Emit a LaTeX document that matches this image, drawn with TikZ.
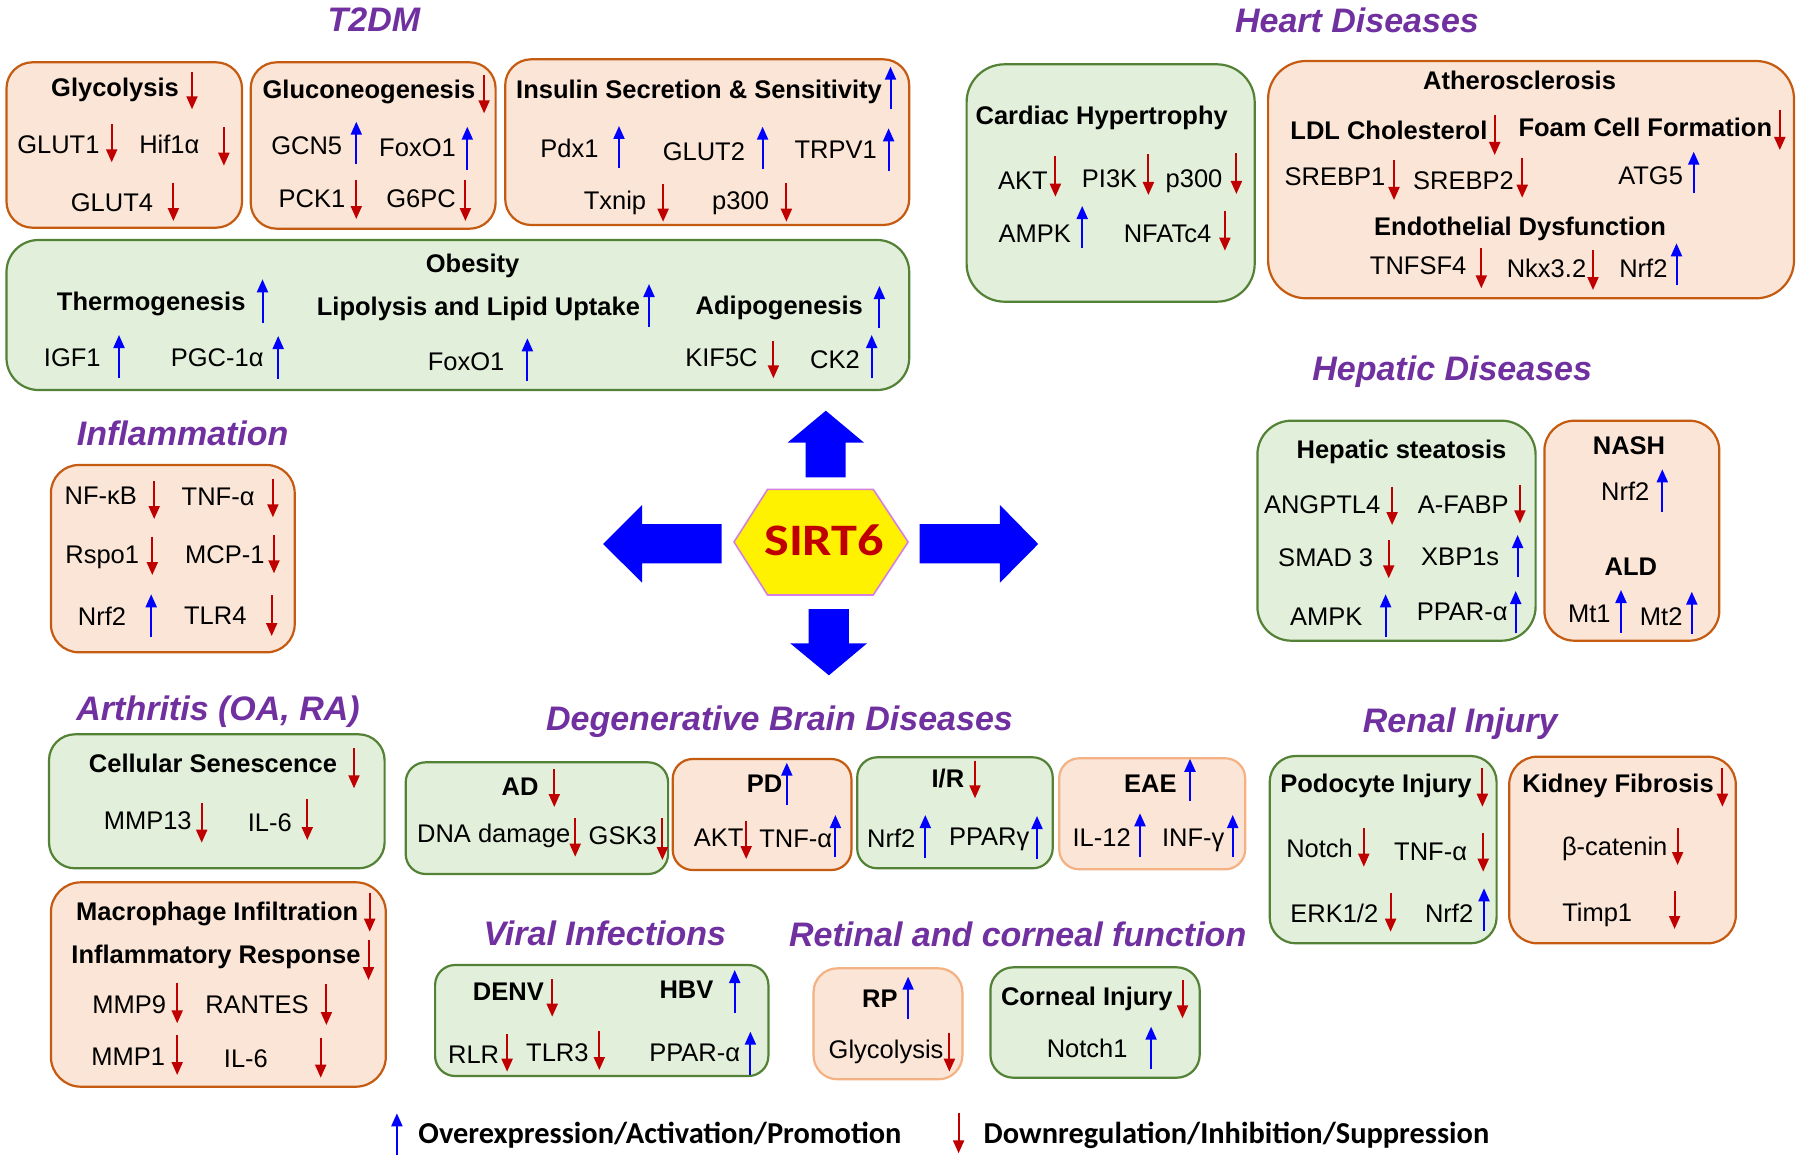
\documentclass[tikz,border=0pt]{standalone}
\usepackage{fontspec}
\setmainfont{Liberation Sans}
\newfontfamily\calib{Carlito}
\usetikzlibrary{arrows.meta}
\definecolor{ofill}{HTML}{FBE5D6}
\definecolor{oline}{HTML}{C55A11}
\definecolor{lline}{HTML}{F4B183}
\definecolor{gfill}{HTML}{E2EFDA}
\definecolor{gline}{HTML}{538135}
\definecolor{purp}{HTML}{7030A0}
\definecolor{ared}{HTML}{C00000}
\definecolor{ablue}{HTML}{0000FF}
\definecolor{hexline}{HTML}{D77FE0}
\newcommand{\myup}[3]{\draw[uparr] (#1,#3) -- (#1,#2);}
\newcommand{\mydn}[3]{\draw[dnarr] (#1,#2) -- (#1,#3);}
\begin{document}
\begin{tikzpicture}[x=0.5pt,y=-0.5pt,
  obox/.style={fill=ofill,draw=oline,line width=1.1pt},
  lbox/.style={fill=ofill,draw=lline,line width=1.1pt},
  gbox/.style={fill=gfill,draw=gline,line width=1.1pt},
  t/.style={inner sep=0pt,font=\fontsize{12.75}{15}\selectfont,text height=9.13pt,text depth=0pt},
  h/.style={inner sep=0pt,font=\fontsize{12.75}{15}\selectfont\bfseries,text height=9.13pt,text depth=0pt},
  ttl/.style={inner sep=0pt,font=\fontsize{17}{20}\selectfont\bfseries\itshape,text=purp,text height=12.2pt,text depth=0pt},
  lg/.style={inner sep=0pt,font=\fontsize{15.2}{18}\selectfont\calib\bfseries,text height=9.7pt,text depth=0pt},
  uparr/.style={draw=ablue,line width=1pt,-{Triangle[width=5.5pt,length=6.5pt]}},
  dnarr/.style={draw=ared,line width=1pt,-{Triangle[width=5.5pt,length=6.5pt]}},
  big/.style={fill=ablue,draw=none}]
\useasboundingbox (0,0) rectangle (1800,1161);
\fill[white] (0,0) rectangle (1800,1161);

% ---------- boxes ----------
\draw[obox,rounded corners=13pt] (6.5,62.3) rectangle (242,227.7);
\draw[obox,rounded corners=13pt] (250.7,62.3) rectangle (495.6,228.7);
\draw[obox,rounded corners=13pt] (505.2,59.3) rectangle (909.2,225);
\draw[gbox,rounded corners=16pt] (6.5,240) rectangle (909.2,390);
\draw[gbox,rounded corners=19pt] (966.6,64.3) rectangle (1254.7,301.7);
\draw[obox,rounded corners=19pt] (1268.1,61) rectangle (1794,298.3);
\draw[gbox,rounded corners=17pt] (1257.4,420.7) rectangle (1535.6,640.7);
\draw[obox,rounded corners=15pt] (1544.4,420.7) rectangle (1719.3,640.7);
\draw[obox,rounded corners=14pt] (50.9,465) rectangle (294.7,652.3);
\draw[gbox,rounded corners=13pt] (49,734.3) rectangle (384.6,868.3);
\draw[obox,rounded corners=15pt] (50.9,882.3) rectangle (385.8,1086.7);
\draw[gbox,rounded corners=10pt] (405.7,762.3) rectangle (668.1,874);
\draw[obox,rounded corners=10pt] (672.7,759) rectangle (851.4,870);
\draw[gbox,rounded corners=10pt] (857.2,757.3) rectangle (1052.7,868.3);
\draw[lbox,rounded corners=10pt] (1059.2,758.3) rectangle (1245.2,869.3);
\draw[gbox,rounded corners=13pt] (1269.7,756) rectangle (1496.6,943.3);
\draw[obox,rounded corners=14pt] (1509.2,756.7) rectangle (1735.8,943.3);
\draw[gbox,rounded corners=10pt] (435.1,965) rectangle (768.4,1076);
\draw[lbox,rounded corners=12pt] (813.5,968.3) rectangle (962.4,1079.3);
\draw[gbox,rounded corners=11.5pt] (990.4,967.3) rectangle (1199.7,1077.7);

% ---------- titles ----------
\node[ttl] (tT2DM) at (374,19) {T2DM};
\node[ttl] (tHeart) at (1357,20) {Heart Diseases};
\node[ttl] (tHep) at (1452.2,368.3) {Hepatic Diseases};
\node[ttl] (tInfl) at (182.7,433.3) {Inflammation};
\node[ttl] (tArth) at (218.1,708.3) {Arthritis (OA, RA)};
\node[ttl] (tBrain) at (779.5,718.6) {Degenerative Brain Diseases};
\node[ttl] (tRenal) at (1460.2,720) {Renal Injury};
\node[ttl] (tViral) at (604.8,933.3) {Viral Infections};
\node[ttl] (tRet) at (1017.7,934.5) {Retinal and corneal function};

% ---------- T2DM ----------
\node[h] (glyH) at (115,87.3) {Glycolysis};  \mydn{192}{71.7}{109.3}
\node[t] (glut1) at (58.4,144.3) {GLUT1};  \mydn{111.7}{124}{162.3}
\node[t] (hif) at (169.3,144.3) {Hif1α};  \mydn{223.9}{127.3}{165.7}
\node[t] (glut4) at (112,202.7) {GLUT4};  \mydn{173.4}{182.7}{221}

\node[h] (gluH) at (368.9,89.3) {Gluconeogenesis};  \mydn{484.1}{75}{113.3}
\node[t] (gcn5) at (306.7,145.7) {GCN5};  \myup{356.3}{121.7}{164.3}
\node[t] (foxa) at (417.5,147.3) {FoxO1};  \myup{467.3}{126.7}{170}
\node[t] (pck1) at (311.9,198.3) {PCK1};  \mydn{356.3}{180}{219}
\node[t] (g6pc) at (421,198.3) {G6PC};  \mydn{465.4}{180}{221}

\node[h] (insH) at (699,89.3) {Insulin Secretion \& Sensitivity};  \myup{890.5}{66.7}{109.3}
\node[t] (pdx1) at (569.4,148) {Pdx1};  \myup{619}{126}{168.3}
\node[t] (glut2) at (703.9,151.7) {GLUT2};  \myup{762.6}{126.7}{169.3}
\node[t] (trpv1) at (835.7,149) {TRPV1};  \myup{888.6}{128.3}{170.7}
\node[t] (txnip) at (615,200) {Txnip};  \mydn{663.1}{184.3}{221.7}
\node[t] (p300a) at (740.6,200) {p300};  \mydn{786.4}{183.3}{221.7}

\node[h] (obH) at (472.6,263.3) {Obesity};
\node[h] (thermo) at (151.2,301.7) {Thermogenesis};  \myup{262.5}{279.3}{322.7}
\node[h] (lipo) at (478.4,306.7) {Lipolysis and Lipid Uptake};  \myup{649}{284}{326.7}
\node[h] (adipo) at (779.3,305.7) {Adipogenesis};  \myup{879.4}{286}{328.3}
\node[t] (igf1) at (72.3,357.3) {IGF1};  \myup{119}{335}{377.7}
\node[t] (pgc) at (217.2,357.3) {PGC-1α};  \myup{278.2}{336}{379}
\node[t] (foxb) at (466.1,361.7) {FoxO1};  \myup{527.4}{338.3}{380.7}
\node[t] (kif) at (721.5,357.3) {KIF5C};  \mydn{773.4}{340.7}{378.3}
\node[t] (ck2) at (835,359.3) {CK2};  \myup{871.7}{335}{377.7}

% ---------- Heart ----------
\node[h] (cardH) at (1101.7,115) {Cardiac Hypertrophy};
\node[t] (akta) at (1022.9,180) {AKT};  \mydn{1055.4}{156}{196.7}
\node[t] (pi3k) at (1109.6,178.3) {PI3K};  \mydn{1148.4}{154.3}{195}
\node[t] (p300b) at (1194,178) {p300};  \mydn{1236.4}{153.3}{194}
\node[t] (ampka) at (1034.7,233.3) {AMPK};  \myup{1082.2}{206}{248.3}
\node[t] (nfat) at (1167.5,233) {NFATc4};  \mydn{1224.9}{210.7}{250.7}

\node[h] (athH) at (1519.6,80.7) {Atherosclerosis};
\node[h] (ldl) at (1388.9,130) {LDL Cholesterol};  \mydn{1494.7}{115}{155}
\node[h] (foam) at (1645.3,127.7) {Foam Cell Formation};  \mydn{1779.8}{110}{150}
\node[t] (sreb1) at (1334.9,176.7) {SREBP1};  \mydn{1394}{160}{200}
\node[t] (sreb2) at (1463.5,180.7) {SREBP2};  \mydn{1522.2}{157.7}{197.7}
\node[t] (atg5) at (1650.6,175) {ATG5};  \myup{1693.7}{151.7}{193.3}
\node[h] (endo) at (1520.1,226) {Endothelial Dysfunction};
\node[t] (tnfsf) at (1418.1,265.7) {TNFSF4};  \mydn{1481.3}{248.3}{288.3}
\node[t] (nkx) at (1546.5,268.3) {Nkx3.2};  \mydn{1593}{250}{290}
\node[t] (nrfa) at (1643.4,268.3) {Nrf2};  \myup{1676.5}{243.3}{285}

% ---------- Hepatic ----------
\node[h] (hstH) at (1401.5,449) {Hepatic steatosis};
\node[t] (angp) at (1322.1,504) {ANGPTL4};  \mydn{1392.1}{486.7}{525}
\node[t] (afabp) at (1463.3,504) {A-FABP};  \mydn{1519.9}{485}{523.3}
\node[t] (smad) at (1325.7,557.3) {SMAD 3};  \mydn{1388.7}{540}{578.3}
\node[t] (xbp) at (1460.2,556.7) {XBP1s};  \myup{1517.6}{535}{577.3}
\node[t] (ampkb) at (1326.3,616.7) {AMPK};  \myup{1385.6}{594.3}{636.7}
\node[t] (ppara) at (1462.2,611.7) {PPAR-α};  \myup{1515.7}{591}{633.3}

\node[h] (nashH) at (1629,445) {NASH};
\node[t] (nrfb) at (1625.2,491.7) {Nrf2};  \myup{1662.3}{469.3}{511.7}
\node[h] (aldH) at (1630.9,566.7) {ALD};
\node[t] (mt1) at (1589.4,613.3) {Mt1};  \myup{1621}{590}{632.7}
\node[t] (mt2) at (1661.2,616) {Mt2};  \myup{1691.8}{591.7}{634.3}

% ---------- Inflammation ----------
\node[t] (nfkb) at (100.8,495) {NF-κB};  \mydn{154.2}{481}{519}
\node[t] (tnfa) at (218.1,496) {TNF-α};  \mydn{272.9}{479}{517.3}
\node[t] (rspo) at (102.2,554) {Rspo1};  \mydn{152.3}{536.7}{575}
\node[t] (mcp) at (224.8,554) {MCP-1};  \mydn{274}{535}{573.3}
\node[t] (nrfc) at (102,616) {Nrf2};  \myup{151.2}{594.3}{636.7}
\node[t] (tlr4) at (215.3,615) {TLR4};  \mydn{271.7}{595}{636}

% ---------- Arthritis ----------
\node[h] (cellH) at (213,763.3) {Cellular Senescence};  \mydn{354}{748.3}{788.3}
\node[t] (mmp13) at (147.7,820) {MMP13};  \mydn{201.7}{802.7}{842.7}
\node[t] (il6a) at (269.8,822) {IL-6};  \mydn{307.3}{799.3}{840}

\node[h] (macH) at (217.2,911.7) {Macrophage Infiltration};  \mydn{369.7}{892.7}{931.7}
\node[h] (infH) at (216,954) {Inflammatory Response};  \mydn{368.5}{940}{980}
\node[t] (mmp9) at (129.2,1004) {MMP9};  \mydn{177.2}{983.3}{1023.3}
\node[t] (rant) at (257,1004) {RANTES};  \mydn{326.4}{984.3}{1025}
\node[t] (mmp1) at (128.2,1056.7) {MMP1};  \mydn{177.2}{1035}{1075}
\node[t] (il6b) at (245.9,1058.3) {IL-6};  \mydn{320.7}{1037.7}{1077.7}

% ---------- Brain ----------
\node[h] (adH) at (520.1,786) {AD};  \mydn{554.3}{769}{807}
\node[t] (dna) at (493.7,833.3) {DNA damage};  \mydn{575.2}{818.3}{856.7}
\node[t] (gsk) at (622.7,835.7) {GSK3};  \mydn{662.4}{818.3}{860}

\node[h] (pdH) at (764.6,783.3) {PD};  \myup{786.8}{762.7}{805}
\node[t] (aktb) at (718.6,837.3) {AKT};  \mydn{746.2}{820.7}{859}
\node[t] (tnfb) at (795.8,838.3) {TNF-α};  \myup{835.4}{815}{857.3}

\node[h] (irH) at (947.9,778.3) {I/R};  \mydn{975}{760.7}{798.3}
\node[t] (nrfd) at (891.2,838.3) {Nrf2};  \myup{925.3}{815}{858.3}
\node[t] (pparg) at (989.2,836) {PPARγ};  \myup{1037}{816}{859}

\node[h] (eaeH) at (1150.3,783.3) {EAE};  \myup{1190}{758.8}{800.7}
\node[t] (il12) at (1101.7,837.3) {IL-12};  \myup{1140}{813.3}{856.7}
\node[t] (infg) at (1193.3,837) {INF-γ};  \myup{1232.7}{815}{856.7}

% ---------- Renal ----------
\node[h] (podH) at (1376,783.3) {Podocyte Injury};  \mydn{1482.4}{768.3}{806.7}
\node[t] (notch) at (1319.6,848.3) {Notch};  \mydn{1363.8}{827.7}{866.7}
\node[t] (tnfc) at (1430.6,851.7) {TNF-α};  \mydn{1483.2}{833.3}{871.7}
\node[t] (erk) at (1334.3,913.3) {ERK1/2};  \mydn{1390.6}{893.3}{931.7}
\node[t] (nrfe) at (1449.1,913.3) {Nrf2};  \myup{1484}{888.3}{930.7}

\node[h] (kidH) at (1618.1,783.3) {Kidney Fibrosis};  \mydn{1722.4}{768.3}{806.7}
\node[t] (bcat) at (1614.7,846.7) {β-catenin};  \mydn{1677.6}{827.7}{865}
\node[t] (timp) at (1597.2,912.7) {Timp1};  \mydn{1674.6}{891}{929}

% ---------- Viral ----------
\node[h] (denvH) at (508.4,991.7) {DENV};  \mydn{552.2}{979}{1016.7}
\node[h] (hbvH) at (686.5,989.3) {HBV};  \myup{734.7}{970}{1012.7}
\node[t] (rlr) at (473.6,1054) {RLR};  \mydn{507.1}{1034.3}{1071.7}
\node[t] (tlr3) at (557.4,1052.7) {TLR3};  \mydn{599.3}{1031}{1070}
\node[t] (pparb) at (694.7,1052.7) {PPAR-α};  \myup{750.4}{1031.7}{1075}

% ---------- Retinal ----------
\node[h] (rpH) at (879.8,998.3) {RP};  \myup{908.1}{976.7}{1019.3}
\node[t] (glyb) at (886.1,1049.3) {Glycolysis};  \mydn{949.4}{1033.3}{1071.7}
\node[h] (cornH) at (1086.8,996) {Corneal Injury};  \mydn{1182.5}{980}{1018.3}
\node[t] (notch1) at (1087.2,1048.3) {Notch1};  \myup{1151.1}{1026.7}{1069.3}

% ---------- legend ----------
\myup{396.9}{1113.3}{1155}
\node[lg] (lgup) at (660,1134) {Overexpression/Activation/Promotion};
\mydn{958.6}{1113.3}{1153.3}
\node[lg] (lgdn) at (1236.4,1134) {Downregulation/Inhibition/Suppression};

% ---------- SIRT6 centre ----------
\path[big] (805.5,477.3) -- (805.5,442.7) -- (787.5,442.7) -- (825.8,410.7) -- (864.1,442.7) -- (845.7,442.7) -- (845.7,477.3) -- cycle;
\path[big] (721.7,524) -- (642.1,524) -- (642.1,505) -- (603.1,544) -- (642.1,582.7) -- (642.1,563.3) -- (721.7,563.3) -- cycle;
\path[big] (919.6,524) -- (999.9,524) -- (999.9,505) -- (1038.2,544) -- (999.9,582.7) -- (999.9,563.3) -- (919.6,563.3) -- cycle;
\path[big] (808.6,609) -- (848.8,609) -- (848.8,643.3) -- (867.1,643.3) -- (828.9,675.3) -- (790.2,643.3) -- (808.6,643.3) -- cycle;
\draw[fill=yellow,draw=hexline,line width=0.8pt] (734,542) -- (767.6,489.3) -- (873.2,489.3) -- (908.1,542) -- (873.2,595) -- (767.6,595) -- cycle;
\node[inner sep=0pt,font=\fontsize{22.5}{27}\selectfont\calib\bfseries,text=ared,text height=14.2pt,text depth=0pt] (sirt) at (824.2,540.8) {\scalebox{1.16}[1]{SIRT6}};
\end{tikzpicture}
\end{document}
